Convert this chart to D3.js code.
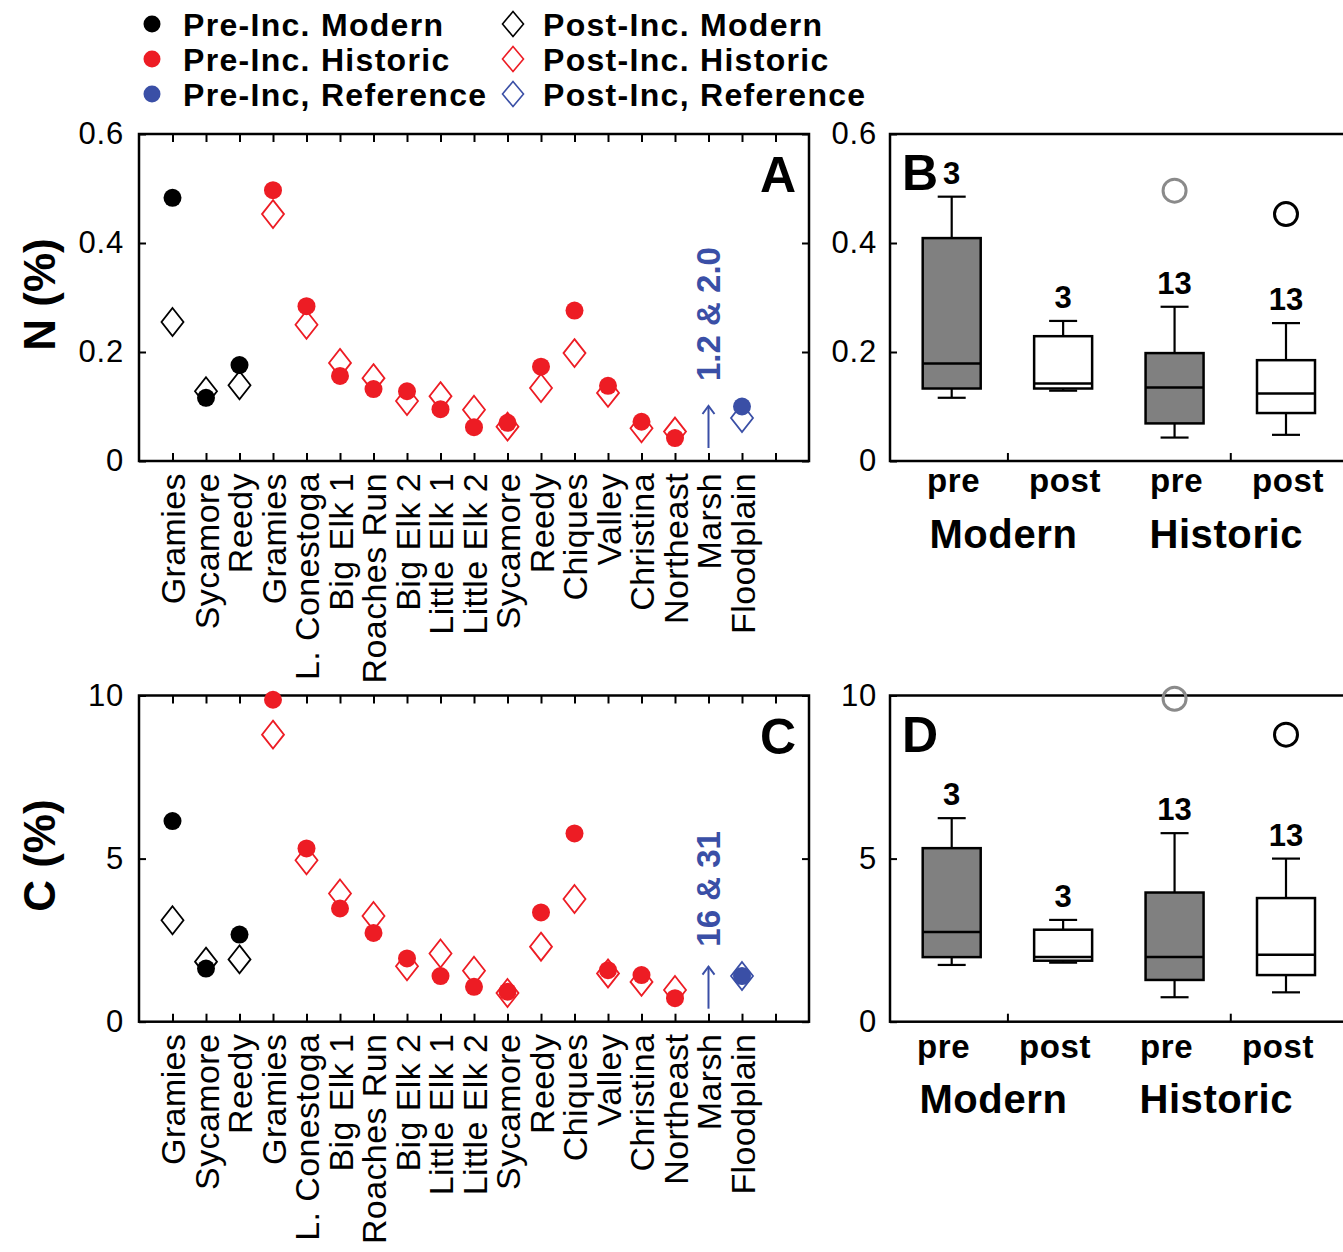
<!DOCTYPE html>
<html>
<head>
<meta charset="utf-8">
<script src="https://cdn.jsdelivr.net/npm/d3@7"></script>
<style>
  body { margin: 0; background: #fff; }
  svg { display: block; }
  text { font-family: "Liberation Sans", Arial, Helvetica, sans-serif; }
</style>
</head>
<body>
<svg id="fig" width="1343" height="1252"></svg>
<script>
// Sampling sites in x-axis order (panels A and C)
const sites = ["Gramies", "Sycamore", "Reedy", "Gramies", "L. Conestoga", "Big Elk 1",
  "Roaches Run", "Big Elk 2", "Little Elk 1", "Little Elk 2", "Sycamore", "Reedy",
  "Chiques", "Valley", "Christina", "Northeast", "Marsh", "Floodplain"];
const siteGroups = ["Modern", "Modern", "Modern", "Historic", "Historic", "Historic",
  "Historic", "Historic", "Historic", "Historic", "Historic", "Historic",
  "Historic", "Historic", "Historic", "Historic", "Reference", "Reference"];

// Nitrogen (%) before and after incubation (Marsh is off scale)
const nPre  = [0.483, 0.116, 0.176, 0.497, 0.284, 0.156, 0.132, 0.128, 0.095, 0.062,
  0.070, 0.173, 0.276, 0.138, 0.072, 0.042, null, 0.100];
const nPost = [0.255, 0.128, 0.139, 0.453, 0.250, 0.180, 0.152, 0.110, 0.119, 0.094,
  0.063, 0.134, 0.198, 0.125, 0.060, 0.054, null, 0.079];

// Carbon (%) before and after incubation
const cPre  = [6.15, 1.63, 2.67, 9.87, 5.31, 3.47, 2.72, 1.94, 1.40, 1.07,
  0.92, 3.35, 5.77, 1.58, 1.43, 0.72, null, 1.40];
const cPost = [3.11, 1.84, 1.91, 8.80, 4.95, 3.93, 3.24, 1.70, 2.09, 1.56,
  0.88, 2.30, 3.76, 1.48, 1.22, 0.97, null, 1.40];

// Off-scale Marsh values (pre & post)
const marshN = "1.2 & 2.0";
const marshC = "16 & 31";

// Box plots: [lower whisker, Q1, median, Q3, upper whisker]
const boxStages = ["pre", "post", "pre", "post"];
const boxGroups = ["Modern", "Modern", "Historic", "Historic"];
const groupNames = ["Modern", "Historic"];
const nBoxStats = [
  [0.116, 0.133, 0.179, 0.409, 0.485],
  [0.129, 0.133, 0.142, 0.229, 0.257],
  [0.043, 0.069, 0.135, 0.198, 0.283],
  [0.048, 0.088, 0.124, 0.185, 0.253]
];
const nOutliers = [null, null, 0.496, 0.453];
const cBoxStats = [
  [1.74, 1.98, 2.75, 5.32, 6.24],
  [1.81, 1.87, 1.98, 2.82, 3.12],
  [0.75, 1.28, 1.98, 3.96, 5.78],
  [0.90, 1.43, 2.05, 3.79, 5.00]
];
const cOutliers = [null, null, 9.9, 8.8];

// Axis ticks
const nTicks = [0, 0.2, 0.4, 0.6];
const cTicks = [0, 5, 10];

// Legend
const legendGroups = ["Modern", "Historic", "Reference"];
const legendPre  = ["Pre-Inc. Modern", "Pre-Inc. Historic", "Pre-Inc, Reference"];
const legendPost = ["Post-Inc. Modern", "Post-Inc. Historic", "Post-Inc, Reference"];

const color = { Modern: "#000000", Historic: "#ed1c24", Reference: "#3a4fa6" };
const boxFill = { pre: "#808080", post: "#ffffff" };
const outlierStroke = { pre: "#8a8a8a", post: "#000000" };

const svg = d3.select("#fig");
svg.append("rect").attr("width", 1343).attr("height", 1252).attr("fill", "#fff");

const diamondPath = (w, h) => `M0,${-h}L${w},0L0,${h}L${-w},0Z`;
const fmtN = d => d === 0 ? "0" : d3.format(".1f")(d);
const fmtC = d => String(d);

function styleAxis(sel) {
  sel.attr("font-size", null).attr("font-family", null);
  sel.select(".domain").remove();
  sel.selectAll(".tick line").attr("stroke", "#000").attr("stroke-width", 2);
  return sel;
}

// ---------- Legend ----------
const legend = svg.append("g");
const rowY = d3.scaleLinear().domain([0, 2]).range([24, 94]);
legendGroups.forEach((grp, i) => {
  legend.append("circle").attr("cx", 152).attr("cy", rowY(i)).attr("r", 8.5)
    .attr("fill", color[grp]);
  legend.append("text").attr("x", 183).attr("y", rowY(i)).attr("dy", "0.36em")
    .attr("font-size", 32).attr("font-weight", "bold").style("letter-spacing", "1.3px")
    .text(legendPre[i]);
  legend.append("path").attr("d", diamondPath(10.5, 12.5))
    .attr("transform", `translate(513,${rowY(i)})`)
    .attr("fill", "#fff").attr("stroke", color[grp]).attr("stroke-width", 1.6);
  legend.append("text").attr("x", 543).attr("y", rowY(i)).attr("dy", "0.36em")
    .attr("font-size", 32).attr("font-weight", "bold").style("letter-spacing", "1.3px")
    .text(legendPost[i]);
});

// ---------- Site scatter panels (A, C) ----------
function scatterPanel(o) {
  const left = 139, right = 809;
  const x = d3.scaleLinear().domain([0, 20]).range([left, right]);
  const y = d3.scaleLinear().domain(o.yDomain).range([o.bottom, o.top]);
  const g = svg.append("g");
  const idx = d3.range(1, 20);

  const gb = g.append("g").attr("transform", `translate(0,${o.bottom})`)
    .call(d3.axisBottom(x).tickValues(idx).tickSizeInner(-8).tickSizeOuter(0)
      .tickFormat(i => sites[i - 1] || ""));
  styleAxis(gb).selectAll("text")
    .attr("transform", "rotate(-90)").attr("x", -12).attr("y", 0).attr("dy", "0.36em")
    .attr("text-anchor", "end").attr("fill", "#000")
    .attr("font-size", 34).style("letter-spacing", "0.4px");

  styleAxis(g.append("g").attr("transform", `translate(0,${o.top})`)
    .call(d3.axisTop(x).tickValues(idx).tickSizeInner(-8).tickSizeOuter(0).tickFormat("")));

  const gl = g.append("g").attr("transform", `translate(${left},0)`)
    .call(d3.axisLeft(y).tickValues(o.ticks).tickSizeInner(-7).tickSizeOuter(0)
      .tickPadding(15).tickFormat(o.fmt));
  styleAxis(gl).selectAll("text").attr("fill", "#000").attr("font-size", 31)
    .style("letter-spacing", "0.8px");

  styleAxis(g.append("g").attr("transform", `translate(${right},0)`)
    .call(d3.axisRight(y).tickValues(o.ticks).tickSizeInner(-7).tickSizeOuter(0).tickFormat("")));

  g.append("rect").attr("x", left).attr("y", o.top)
    .attr("width", right - left).attr("height", o.bottom - o.top)
    .attr("fill", "none").attr("stroke", "#000").attr("stroke-width", 2.5);

  const pts = sites.map((s, i) => ({ i, grp: siteGroups[i], pre: o.pre[i], post: o.post[i] }))
    .filter(d => d.pre != null);

  g.selectAll("path.post").data(pts).join("path").attr("class", "post")
    .attr("d", diamondPath(11, 14))
    .attr("transform", d => `translate(${x(d.i + 1)},${y(d.post)})`)
    .attr("fill", "#fff").attr("stroke", d => color[d.grp]).attr("stroke-width", 1.8);

  g.selectAll("circle.pre").data(pts).join("circle").attr("class", "pre")
    .attr("cx", d => x(d.i + 1)).attr("cy", d => y(d.pre)).attr("r", 9)
    .attr("fill", d => color[d.grp]);

  // Off-scale Marsh values: arrow and note
  const ax = x(sites.indexOf("Marsh") + 1);
  const y0 = o.bottom - 13, y1 = o.bottom - 55;
  g.append("line").attr("x1", ax).attr("x2", ax).attr("y1", y0).attr("y2", y1)
    .attr("stroke", color.Reference).attr("stroke-width", 2);
  g.append("path").attr("d", `M${ax - 6},${y1 + 8}L${ax},${y1}L${ax + 6},${y1 + 8}`)
    .attr("fill", "none").attr("stroke", color.Reference).attr("stroke-width", 2);
  g.append("text").attr("transform", `translate(${ax},${o.bottom - o.noteGap}) rotate(-90)`)
    .attr("dy", "0.36em").attr("font-size", 33).attr("font-weight", "bold")
    .attr("fill", color.Reference).text(o.note);

  g.append("text").attr("x", 796).attr("y", o.top + 58).attr("text-anchor", "end")
    .attr("font-size", 50).attr("font-weight", "bold").text(o.letter);

  g.append("text").attr("transform", `translate(39,${(o.top + o.bottom) / 2 - 3}) rotate(-90)`)
    .attr("text-anchor", "middle").attr("dy", "0.36em")
    .attr("font-size", 44).attr("font-weight", "bold").text(o.ylabel);
}

// ---------- Box-plot panels (B, D) ----------
function boxPanel(o) {
  const left = 890, right = 1350;
  const x = d3.scaleLinear().domain([1, 4]).range([951.7, 1286]);
  const y = d3.scaleLinear().domain(o.yDomain).range([o.bottom, o.top]);
  const g = svg.append("g");

  const gl = g.append("g").attr("transform", `translate(${left},0)`)
    .call(d3.axisLeft(y).tickValues(o.ticks).tickSizeInner(-7).tickSizeOuter(0)
      .tickPadding(13).tickFormat(o.fmt));
  styleAxis(gl).selectAll("text").attr("fill", "#000").attr("font-size", 31)
    .style("letter-spacing", "0.8px");

  styleAxis(g.append("g").attr("transform", `translate(0,${o.bottom})`)
    .call(d3.axisBottom(x).tickValues([1.5, 3.5]).tickSizeInner(-8).tickSizeOuter(0).tickFormat("")));

  g.append("rect").attr("x", left).attr("y", o.top)
    .attr("width", right - left).attr("height", o.bottom - o.top)
    .attr("fill", "none").attr("stroke", "#000").attr("stroke-width", 2.5);

  const boxes = o.stats.map((s, i) => ({
    i, stage: boxStages[i], grp: boxGroups[i],
    lo: s[0], q1: s[1], med: s[2], q3: s[3], hi: s[4], out: o.outliers[i],
    n: siteGroups.filter(gr => gr === boxGroups[i]).length
  }));
  const bw = 58, cw = 28;

  const bg = g.selectAll("g.box").data(boxes).join("g").attr("class", "box");
  bg.append("line").attr("x1", d => x(d.i + 1)).attr("x2", d => x(d.i + 1))
    .attr("y1", d => y(d.lo)).attr("y2", d => y(d.hi))
    .attr("stroke", "#000").attr("stroke-width", 2.2);
  bg.append("line").attr("x1", d => x(d.i + 1) - cw / 2).attr("x2", d => x(d.i + 1) + cw / 2)
    .attr("y1", d => y(d.hi)).attr("y2", d => y(d.hi))
    .attr("stroke", "#000").attr("stroke-width", 2.2);
  bg.append("line").attr("x1", d => x(d.i + 1) - cw / 2).attr("x2", d => x(d.i + 1) + cw / 2)
    .attr("y1", d => y(d.lo)).attr("y2", d => y(d.lo))
    .attr("stroke", "#000").attr("stroke-width", 2.2);
  bg.append("rect").attr("x", d => x(d.i + 1) - bw / 2).attr("width", bw)
    .attr("y", d => y(d.q3)).attr("height", d => y(d.q1) - y(d.q3))
    .attr("fill", d => boxFill[d.stage]).attr("stroke", "#000").attr("stroke-width", 2.5);
  bg.append("line").attr("x1", d => x(d.i + 1) - bw / 2).attr("x2", d => x(d.i + 1) + bw / 2)
    .attr("y1", d => y(d.med)).attr("y2", d => y(d.med))
    .attr("stroke", "#000").attr("stroke-width", 2.5);
  bg.filter(d => d.out != null).append("circle")
    .attr("cx", d => x(d.i + 1)).attr("cy", d => y(d.out)).attr("r", 11.5)
    .attr("fill", "none").attr("stroke", d => outlierStroke[d.stage]).attr("stroke-width", 3);
  bg.append("text").attr("x", d => x(d.i + 1)).attr("y", d => y(d.hi) - 13)
    .attr("text-anchor", "middle").attr("font-size", 31).attr("font-weight", "bold")
    .text(d => d.n);

  g.selectAll("text.stage").data(boxes).join("text").attr("class", "stage")
    .attr("x", d => x(d.i + 1) + o.shift).attr("y", o.bottom + o.stageGap)
    .attr("text-anchor", "middle").attr("font-size", 33).attr("font-weight", "bold")
    .style("letter-spacing", "0.6px").text(d => d.stage);

  g.selectAll("text.group").data(groupNames).join("text").attr("class", "group")
    .attr("x", (d, k) => (x(2 * k + 1) + x(2 * k + 2)) / 2 + o.shift - 6)
    .attr("y", o.bottom + o.groupGap)
    .attr("text-anchor", "middle").attr("font-size", 40).attr("font-weight", "bold")
    .style("letter-spacing", "0.6px").text(d => d);

  g.append("text").attr("x", 902).attr("y", o.top + 56)
    .attr("font-size", 50).attr("font-weight", "bold").text(o.letter);
}

scatterPanel({ top: 134, bottom: 461, yDomain: [0, 0.6], ticks: nTicks, fmt: fmtN,
  pre: nPre, post: nPost, letter: "A", ylabel: "N (%)", note: marshN, noteGap: 80 });
scatterPanel({ top: 695.5, bottom: 1021.7, yDomain: [0, 10], ticks: cTicks, fmt: fmtC,
  pre: cPre, post: cPost, letter: "C", ylabel: "C (%)", note: marshC, noteGap: 75 });
boxPanel({ top: 134, bottom: 461, yDomain: [0, 0.6], ticks: nTicks, fmt: fmtN,
  stats: nBoxStats, outliers: nOutliers, letter: "B", shift: 2, stageGap: 31, groupGap: 87 });
boxPanel({ top: 695.5, bottom: 1021.7, yDomain: [0, 10], ticks: cTicks, fmt: fmtC,
  stats: cBoxStats, outliers: cOutliers, letter: "D", shift: -8, stageGap: 36, groupGap: 91 });
</script>
</body>
</html>
